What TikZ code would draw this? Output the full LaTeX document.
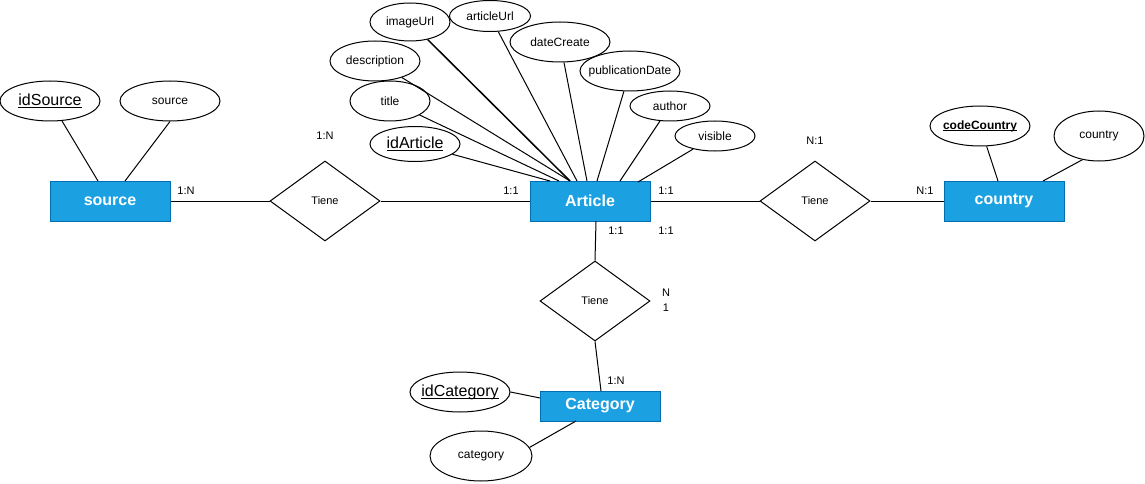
\documentclass[tikz,border=0pt]{standalone}
\usepackage{fontspec}
\setmainfont{Liberation Sans}
\usetikzlibrary{shapes.geometric}
\definecolor{entfill}{HTML}{1BA1E2}
\definecolor{entdraw}{HTML}{006EAF}
\newcommand{\ulx}[1]{{\setbox0\hbox{#1}\rlap{\rule[-0.16em]{\wd0}{0.07em}}\box0}}
\begin{document}
\begin{tikzpicture}[x=1pt,y=-1pt,line width=1pt,
  entity/.style={rectangle,draw=entdraw,fill=entfill,text=white,font=\fontsize{16}{19}\selectfont\bfseries,minimum width=120pt,minimum height=40pt,inner sep=0pt},
  attr/.style={ellipse,draw,fill=white,inner sep=0pt,font=\fontsize{12}{14}\selectfont},
  keyfont/.style={font=\fontsize{16}{19}\selectfont},
  rel/.style={diamond,draw,fill=white,minimum width=110pt,minimum height=80pt,inner sep=0pt,font=\fontsize{11}{13}\selectfont},
  card/.style={inner sep=0pt,font=\fontsize{11}{13}\selectfont}]
\useasboundingbox (0,0) rectangle (1145,484);

% entities
\node[entity] (source) at (110,201) {source};
\node[entity] (article) at (590,201) {Article};
\node[entity] (country) at (1004,201) {country};
\node[entity,minimum height=30pt] (category) at (600,406) {Category};

% relationships
\node[rel] (relL) at (325,201) {Tiene};
\node[rel] (relR) at (815,201) {Tiene};
\node[rel] (relB) at (595,301) {Tiene};

% attributes of source
\node[attr,keyfont,minimum width=100pt,minimum height=40pt] (idSource) at (50,101) {\makebox[0pt]{\ulx{idSource}}};
\node[attr,minimum width=100pt,minimum height=40pt] (srcattr) at (170,101) {\makebox[0pt]{source}};

% attributes of Article
\node[attr,minimum width=80pt,minimum height=38pt] (imageUrl) at (410,22) {\makebox[0pt]{imageUrl}};
\node[attr,minimum width=81pt,minimum height=31pt] (articleUrl) at (490,16) {\makebox[0pt]{articleUrl}};
\node[attr,minimum width=100pt,minimum height=40pt] (dateCreate) at (560,42) {\makebox[0pt]{dateCreate}};
\node[attr,minimum width=100pt,minimum height=40pt] (pubDate) at (630,71) {\makebox[0pt]{publicationDate}};
\node[attr,minimum width=80pt,minimum height=30pt] (author) at (670,106) {\makebox[0pt]{author}};
\node[attr,minimum width=80pt,minimum height=30pt] (visible) at (715,136) {\makebox[0pt]{visible}};
\node[attr,minimum width=90pt,minimum height=40pt] (description) at (375,61) {\makebox[0pt]{description}};
\node[attr,minimum width=80pt,minimum height=40pt] (title) at (390,101) {\makebox[0pt]{title}};
\node[attr,keyfont,minimum width=90pt,minimum height=35pt] (idArticle) at (415,144) {\makebox[0pt]{\ulx{idArticle}}};

% attributes of country
\node[attr,font=\fontsize{12}{14}\selectfont\bfseries,minimum width=100pt,minimum height=40pt] (codeCountry) at (980,126) {\makebox[0pt]{\ulx{codeCountry}}};
\node[attr,minimum width=90pt,minimum height=50pt] (ctyattr) at (1099,136) {\makebox[0pt]{country}};

% attributes of Category
\node[attr,keyfont,minimum width=100pt,minimum height=40pt] (idCategory) at (460,392) {\makebox[0pt]{\ulx{idCategory}}};
\node[attr,minimum width=102pt,minimum height=50pt] (catattr) at (481,456) {\makebox[0pt]{category}};

% end points on entity borders
\coordinate (s1) at (98,181);
\coordinate (s2) at (125,181);
\coordinate (a1) at (550,181);
\coordinate (a2) at (559,181);
\coordinate (a3) at (570,181);
\coordinate (a4) at (577,181);
\coordinate (a5) at (587,181);
\coordinate (a6) at (597,181);
\coordinate (a7) at (620,181);
\coordinate (a8) at (638,182);
\coordinate (ab) at (596,221);
\coordinate (c1) at (998,181);
\coordinate (c2) at (1043,181);
\coordinate (k0) at (601,391);
\coordinate (k1) at (540,398);
\coordinate (k2) at (576,421);

% connectors
\draw (idSource) -- (s1);
\draw (srcattr.south) -- (s2);
\draw (source.east) -- (relL.west);
\draw (relL.east) -- (article.west);
\draw (article.east) -- (relR.west);
\draw (relR.east) -- (country.west);
\draw (ab) -- (relB.north);
\draw (relB.south) -- (k0);
\draw (idArticle) -- (a1);
\draw (title) -- (a2);
\draw (description) -- (a3);
\draw[line width=1.5pt] (imageUrl) -- (a3);
\draw (articleUrl) -- (a4);
\draw (dateCreate) -- (a5);
\draw (pubDate) -- (a6);
\draw (author) -- (a7);
\draw (visible) -- (a8);
\draw (codeCountry) -- (c1);
\draw (ctyattr.235) -- (c2);
\draw (idCategory.east) -- (k1);
\draw (catattr.10) -- (k2);

% cardinalities
\node[card] (l1) at (186,191) {1:N};
\node[card] (l2) at (325,136) {1:N};
\node[card] (l3) at (511,191) {1:1};
\node[card] (l4) at (666,191) {1:1};
\node[card] (l5) at (616,231) {1:1};
\node[card] (l6) at (666,231) {1:1};
\node[card] (l7) at (815,141) {N:1};
\node[card] (l8) at (925,191) {N:1};
\node[card] (l9) at (666,293) {N};
\node[card] (l10) at (666,308) {1};
\node[card] (l11) at (616,381) {1:N};
\end{tikzpicture}
\end{document}
